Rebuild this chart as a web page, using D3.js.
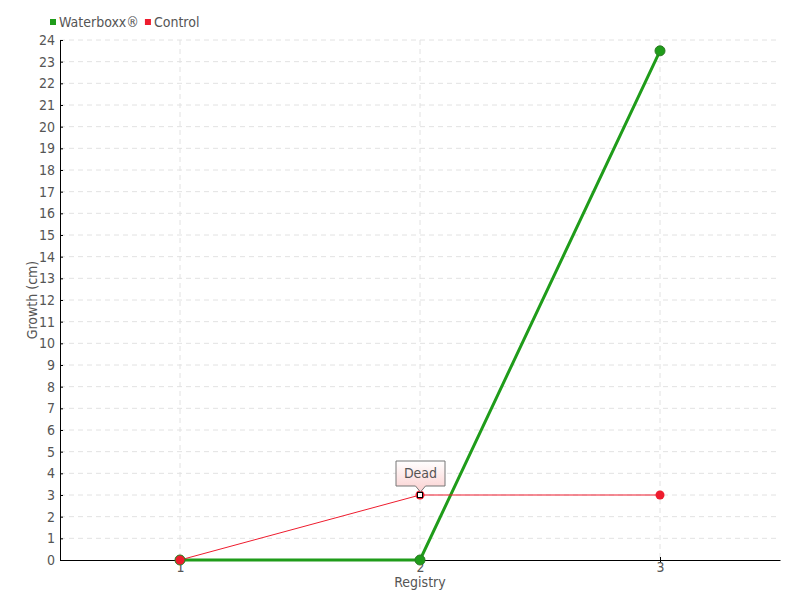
<!DOCTYPE html>
<html>
<head>
<meta charset="utf-8">
<script src="https://cdn.jsdelivr.net/npm/d3@7"></script>
<style>
body { margin: 0; background: #fff; }
svg text { font-family: "DejaVu Sans Condensed", "Liberation Sans Narrow", "Liberation Sans", sans-serif; font-stretch: condensed; fill: #555; }
.grid line { stroke: #e2e2e2; stroke-dasharray: 5,4; }
.axis path, .axis line { stroke: #000; }
</style>
</head>
<body>
<div id="chart-area"></div>
<script>
// data
var registry = [1, 2, 3];
var waterboxx = [0, 0, 23.5];
var control = [0, 3, 3];
var yTicks = d3.range(0, 25);
var seriesNames = ["Waterboxx®", "Control"];
var seriesColors = ["#1f9c1a", "#ee1c2e"];

var width = 800, height = 600;
var margin = {top: 40, right: 20, bottom: 40, left: 60};

var svg = d3.select("#chart-area").append("svg")
	.attr("width", width)
	.attr("height", height);

var x = d3.scaleLinear()
	.domain([0.5, 3.5])
	.range([margin.left, width - margin.right]);

var y = d3.scaleLinear()
	.domain([0, 24])
	.range([height - margin.bottom, margin.top]);

// grid
var grid = svg.append("g").attr("class", "grid");
grid.selectAll(".h")
	.data(yTicks.slice(1))
	.enter().append("line")
	.attr("x1", margin.left).attr("x2", width - margin.right)
	.attr("y1", function(d) { return y(d); })
	.attr("y2", function(d) { return y(d); });
grid.selectAll(".v")
	.data(registry)
	.enter().append("line")
	.attr("x1", function(d) { return x(d); })
	.attr("x2", function(d) { return x(d); })
	.attr("y1", margin.top).attr("y2", height - margin.bottom);

// axes
var xAxis = svg.append("g")
	.attr("class", "axis")
	.attr("transform", "translate(0," + y(0) + ")")
	.call(d3.axisBottom(x).tickValues(registry).tickFormat(d3.format("d")).tickSizeInner(3).tickSizeOuter(0));
xAxis.selectAll(".tick line").attr("y1", -3);
xAxis.selectAll("text").attr("y", 2).attr("dy", "0.71em").style("font-size", "14px");

var yAxis = svg.append("g")
	.attr("class", "axis")
	.attr("transform", "translate(" + margin.left + ",0)")
	.call(d3.axisLeft(y).tickValues(yTicks).tickFormat(d3.format("d")).tickSizeInner(3).tickSizeOuter(0));
yAxis.selectAll(".tick line").attr("x2", 3);
yAxis.selectAll("text").attr("x", -5).style("font-size", "14px");

// axis labels
svg.append("text")
	.attr("x", x(2)).attr("y", 587)
	.attr("text-anchor", "middle")
	.style("font-size", "14px")
	.text("Registry");

svg.append("text")
	.attr("transform", "translate(37," + y(12) + ") rotate(-90)")
	.attr("text-anchor", "middle")
	.style("font-size", "14px")
	.text("Growth (cm)");

// lines
var line = d3.line()
	.x(function(d, i) { return x(registry[i]); })
	.y(function(d) { return y(d); });

svg.append("path")
	.datum(waterboxx)
	.attr("fill", "none")
	.attr("stroke", seriesColors[0])
	.attr("stroke-width", 3)
	.attr("d", line);

svg.append("path")
	.datum(control)
	.attr("fill", "none")
	.attr("stroke", seriesColors[1])
	.attr("stroke-width", 1)
	.attr("d", line);

// markers
svg.selectAll(".wb")
	.data(waterboxx)
	.enter().append("circle")
	.attr("cx", function(d, i) { return x(registry[i]); })
	.attr("cy", function(d) { return y(d); })
	.attr("r", 5)
	.attr("fill", seriesColors[0])
	.attr("stroke", "#2a7a22")
	.attr("stroke-width", 1);

svg.selectAll(".ct")
	.data(control)
	.enter().append("circle")
	.attr("cx", function(d, i) { return x(registry[i]); })
	.attr("cy", function(d) { return y(d); })
	.attr("r", 4.5)
	.attr("fill", seriesColors[1]);

// dead marker on control point 2
svg.append("rect")
	.attr("x", x(2) - 2.5).attr("y", y(3) - 2.5)
	.attr("width", 5).attr("height", 5)
	.attr("fill", "#fff")
	.attr("stroke", "#000")
	.attr("stroke-width", 1);

// callout
var defs = svg.append("defs");
var grad = defs.append("linearGradient")
	.attr("id", "pink").attr("x1", 0).attr("y1", 0).attr("x2", 0).attr("y2", 1);
grad.append("stop").attr("offset", "0%").attr("stop-color", "#ffffff");
grad.append("stop").attr("offset", "100%").attr("stop-color", "#fbd0d0");

var cx = x(2), cy = y(3);
var bx = cx - 24, by = cy - 34, bw = 49, bh = 25;
svg.append("path")
	.attr("d", "M" + bx + "," + by + "h" + bw + "v" + bh + "h" + (-(bw / 2 - 5)) +
		"l-5,6l-5,-6h" + (-(bw / 2 - 5)) + "z")
	.attr("fill", "url(#pink)")
	.attr("stroke", "#777")
	.attr("stroke-width", 1);
svg.append("text")
	.attr("x", cx + 0.5).attr("y", by + 17)
	.attr("text-anchor", "middle")
	.style("font-size", "14px")
	.text("Dead");

// legend
var legend = svg.append("g").attr("transform", "translate(50,22)");
var lx = 0;
seriesNames.forEach(function(name, i) {
	legend.append("rect")
		.attr("x", lx).attr("y", -3)
		.attr("width", 6).attr("height", 6)
		.attr("fill", seriesColors[i]);
	var t = legend.append("text")
		.attr("x", lx + 9).attr("y", 5)
		.style("font-size", "14px")
		.text(name);
	lx += 9 + t.node().getComputedTextLength() + 6;
});
</script>
</body>
</html>
